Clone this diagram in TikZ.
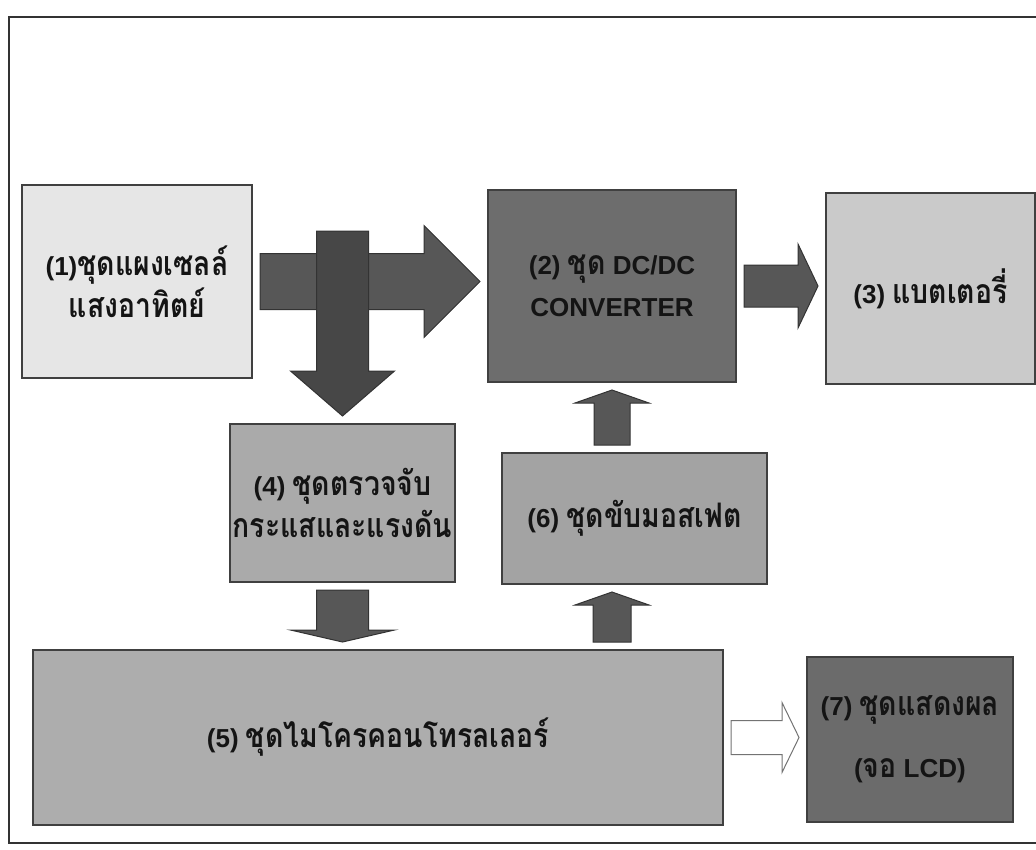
\documentclass[tikz,border=0pt]{standalone}
\usepackage{fontspec}
\setmainfont{Liberation Sans}
\newfontfamily\thaifont[Script=Thai, Scale=1.3, FakeStretch=0.84]{Loma}
\usetikzlibrary{calc}
\newcommand\thx[1]{{\thaifont #1}}
\definecolor{cellL}{HTML}{E6E6E6}
\definecolor{cellD}{HTML}{6D6D6D}
\definecolor{cellM}{HTML}{AAAAAA}
\definecolor{cellS}{HTML}{CACACA}
\definecolor{arrowG}{HTML}{575757}
\tikzset{
  block/.style={rectangle, draw=black!75, line width=1.2pt, outer sep=8pt,
                inner sep=2pt, align=center, text=black!92,
                font=\bfseries\fontsize{26}{42}\selectfont},
  blockL/.style={block, fill=cellL},
  blockD/.style={block, fill=cellD},
  blockM/.style={block, fill=cellM},
  blockS/.style={block, fill=cellS},
  fat/.style n args={3}{fill=arrowG, draw=black!80, line width=1pt,
    to path={
      ($(\tikztostart)!#1!90:(\tikztotarget)$)
      -- ($(\tikztotarget)!#3!(\tikztostart)!#1!90:(\tikztotarget)$)
      -- ($(\tikztotarget)!#3!(\tikztostart)!#2!90:(\tikztotarget)$)
      -- (\tikztotarget)
      -- ($(\tikztotarget)!#3!(\tikztostart)!#2!-90:(\tikztotarget)$)
      -- ($(\tikztotarget)!#3!(\tikztostart)!#1!-90:(\tikztotarget)$)
      -- ($(\tikztostart)!#1!-90:(\tikztotarget)$) -- cycle}},
  frame/.style={draw=black!80, line width=1.6pt},
}
\begin{document}
\begin{tikzpicture}[x=1pt, y=-1pt]
  \useasboundingbox (0,0) rectangle (1036,849);
  \draw[frame] (1036,17) -- (9,17) -- (9,843) -- (1036,843);

  \node[blockL, minimum width=230pt, minimum height=193pt] (cell) at (137,281.5)
    {(1)\thx{ชุดแผงเซลล์}\\\thx{แสงอาทิตย์}};
  \node[blockD, minimum width=248pt, minimum height=192pt] (conv) at (612,286)
    {(2) \thx{ชุด} DC/DC\\CONVERTER};
  \node[blockS, minimum width=209pt, minimum height=191pt] (batt) at (930.5,288.5)
    {(3) \thx{แบตเตอรี่}};
  \node[blockM, minimum width=225pt, minimum height=158pt] (sense) at (342.5,503)
    {(4) \thx{ชุดตรวจจับ}\\\thx{กระแสและแรงดัน}};
  \node[blockM, minimum width=265pt, minimum height=131pt, fill=black!36] (drive) at (634.5,518.5)
    {(6) \thx{ชุดขับมอสเฟต}};
  \node[blockM, minimum width=690pt, minimum height=175pt, fill=black!32] (mcu) at (378,737.5)
    {(5) \thx{ชุดไมโครคอนโทรลเลอร์}};
  \node[blockD, minimum width=206pt, minimum height=165pt, fill=black!58] (lcd) at (910,739.5)
    {(7) \thx{ชุดแสดงผล}\\[20pt](\thx{จอ} LCD)};

  \coordinate (split) at (342.5,231);

  \foreach \a/\b/\w/\h/\l in {
    cell.east/cell.east -| conv.west/28pt/56pt/56pt,
    conv.east/conv.east -| batt.west/21pt/42pt/20pt,
    drive.north -| conv.south/conv.south/18pt/37pt/13pt,
    sense.south/sense.south |- mcu.north/26pt/52pt/12pt,
    conv.south |- mcu.north/conv.south |- drive.south/19pt/37pt/13pt}
    \draw[fat={\w}{\h}{\l}] (\a) to (\b);
  \draw[fat={26pt}{52pt}{45pt}, fill=black!72] (split) to (sense.north);
  \draw[fat={17pt}{35pt}{17pt}, fill=white, draw=black!55] (mcu.east) to (mcu.east -| lcd.west);

\end{tikzpicture}
\end{document}
